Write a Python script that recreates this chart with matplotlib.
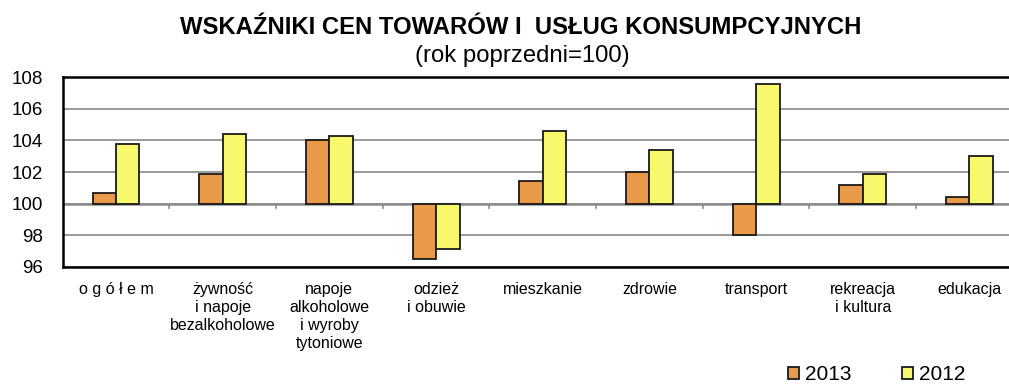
import numpy as np
import matplotlib
matplotlib.use("Agg")
from matplotlib import pyplot as plt
from matplotlib.patches import Patch

plt.rcParams['font.family'] = ['Liberation Sans', 'DejaVu Sans']

categories = ["o g ó ł e m", "żywność\ni napoje\nbezalkoholowe",
              "napoje\nalkoholowe\ni wyroby\ntytoniowe", "odzież\ni obuwie",
              "mieszkanie", "zdrowie", "transport", "rekreacja\ni kultura",
              "edukacja"]
v2013 = [100.7, 101.9, 104.0, 96.5, 101.4, 102.0, 98.0, 101.2, 100.4]
v2012 = [103.8, 104.4, 104.3, 97.1, 104.6, 103.4, 107.6, 101.9, 103.0]
base = 100

c2013 = '#E89A48'
c2012 = '#F8F86C'
edge = '#1a1a1a'

fig = plt.figure(figsize=(10.09, 3.85), dpi=100)
ax = fig.add_axes([0.0621, 0.3073, 0.9516, 0.4918])

x = np.arange(len(categories))
w = 0.22
h13 = np.array(v2013) - base
h12 = np.array(v2012) - base
ax.bar(x - w/2, h13, w, bottom=base, color=c2013, edgecolor=edge, linewidth=1.3, zorder=3)
ax.bar(x + w/2, h12, w, bottom=base, color=c2012, edgecolor=edge, linewidth=1.3, zorder=3)

ax.set_xlim(-0.5, len(categories) - 0.5)
ax.set_ylim(96, 108)
ax.set_yticks(np.arange(96, 109, 2))
ax.yaxis.grid(True, color='#9a9a9a', linewidth=1.4, zorder=0)
ax.set_axisbelow(True)

# horizontal axis line at 100 with small ticks between groups
ax.axhline(base, color='#8c8c8c', linewidth=1.8, zorder=2)
for b in x[:-1] + 0.5:
    ax.plot([b, b], [base, base - 0.3], color='#8c8c8c', linewidth=1.2, zorder=2)

ax.set_xticks(x)
ax.set_xticklabels(categories, fontsize=11.5, linespacing=1.25, va='top')
ax.tick_params(axis='x', length=0, pad=11)
ax.tick_params(axis='y', length=0, pad=14, labelsize=13.5)

for s in ['left', 'top', 'bottom']:
    ax.spines[s].set_linewidth(1.8)
    ax.spines[s].set_color('black')
ax.spines['right'].set_visible(False)

fig.text(0.516, 0.912, "WSKAŹNIKI CEN TOWARÓW I  USŁUG KONSUMPCYJNYCH",
         ha='center', va='baseline', fontsize=17.2, fontweight='bold')
fig.text(0.518, 0.839, "(rok poprzedni=100)", ha='center', va='baseline', fontsize=17.2)

handles = [Patch(facecolor=c2013, edgecolor=edge, linewidth=1.3, label='2013'),
           Patch(facecolor=c2012, edgecolor=edge, linewidth=1.3, label='2012')]
fig.legend(handles=handles, loc='center', bbox_to_anchor=(0.869, 0.027), ncol=2,
           frameon=False, fontsize=15, handlelength=0.5, handleheight=0.5,
           handletextpad=0.3, columnspacing=2.45)

fig.savefig('out.png', dpi=100)
